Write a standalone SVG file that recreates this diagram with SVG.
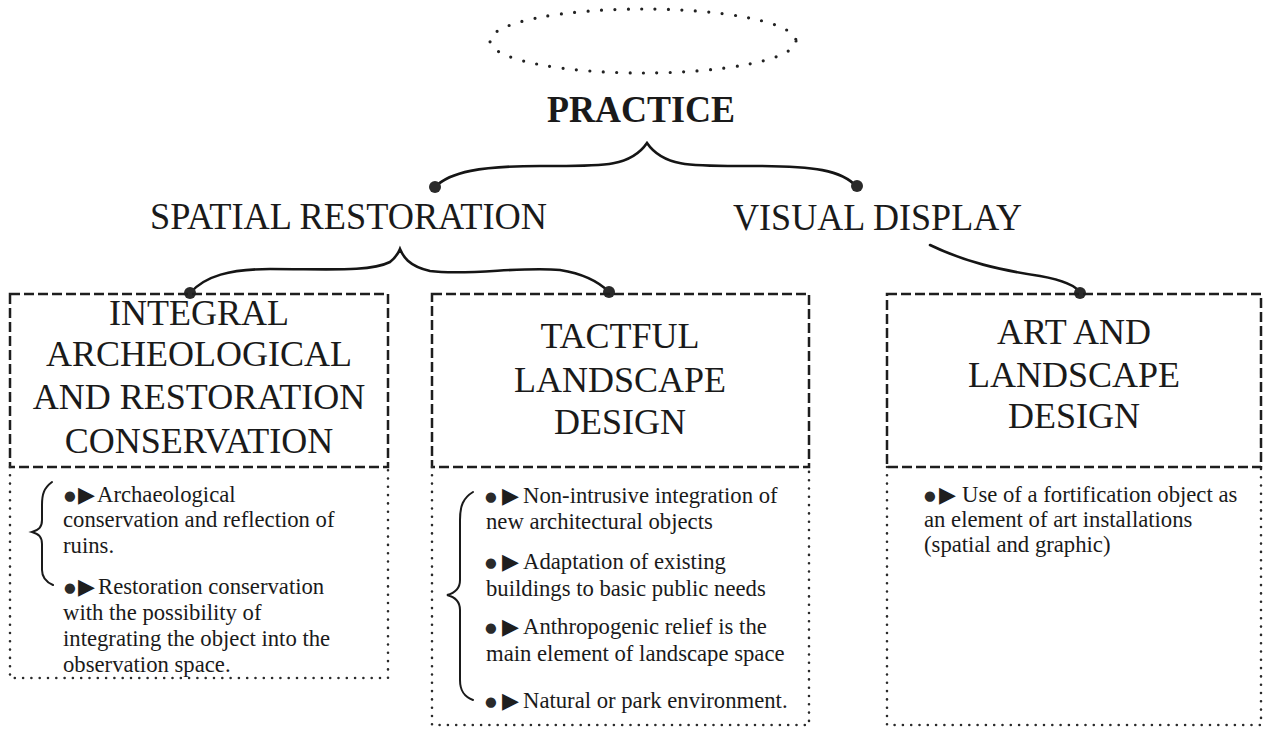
<svg xmlns="http://www.w3.org/2000/svg" width="1266" height="729" viewBox="0 0 1266 729">
  <defs>
    <style>
      .serif { font-family: "Liberation Serif", "Times New Roman", serif; fill: #1a1a1a; }
      .title { font-size: 37px; font-weight: bold; }
      .branch { font-size: 37px; }
      .head { font-size: 36px; text-anchor: middle; }
      .item { font-size: 22.7px; }
      .dot { font-family: "DejaVu Sans", sans-serif; font-size: 13.5px; fill: #2a2a2a; }
      .tri { font-family: "DejaVu Sans", sans-serif; font-size: 22px; fill: #1e1e1e; }
      .dash { fill: none; stroke: #1e1e1e; stroke-width: 2.5; stroke-dasharray: 10 4; }
      .dots { fill: none; stroke: #2a2a2a; stroke-width: 2.6; stroke-dasharray: 0 8.3; stroke-linecap: round; }
      .link { fill: none; stroke: #151515; stroke-width: 2.6; stroke-linecap: round; }
      .knob { fill: #2a2a2a; }
      .brace { fill: none; stroke: #1a1a1a; stroke-width: 2; stroke-linecap: round; }
    </style>
  </defs>
  <rect width="1266" height="729" fill="#ffffff"/>

  <!-- dotted ellipse above the title -->
  <g id="halo">
    <ellipse cx="643" cy="41" rx="153" ry="32" fill="none" stroke="#222222" stroke-width="3.2" stroke-dasharray="0 13.4" stroke-linecap="round"/>
  </g>

  <g id="practice">
    <text class="serif title" x="547" y="122" textLength="188" lengthAdjust="spacingAndGlyphs">PRACTICE</text>
  </g>

  <g id="spatial-restoration">
    <text class="serif branch" x="150" y="229" textLength="397" lengthAdjust="spacingAndGlyphs">SPATIAL RESTORATION</text>
  </g>

  <g id="visual-display">
    <text class="serif branch" x="733" y="230" textLength="289" lengthAdjust="spacingAndGlyphs">VISUAL DISPLAY</text>
  </g>

  <!-- connectors: braces and curved leads ending in round knobs -->
  <g id="connectors">
    <path class="link" d="M435,187 C450,172 480,166 540,166 C600,166 630,168 647,143 C664,168 694,166 754,166 C814,166 842,170 857,187"/>
    <circle class="knob" cx="435" cy="187" r="6"/>
    <circle class="knob" cx="857" cy="186" r="6"/>

    <path class="link" d="M190,293 C205,276 230,269 270,269 C330,269 370,272 390,262 C395,258 398,254 400,249 C403,256 408,266 430,271 C470,276 520,266 560,270 C585,274 600,283 609,292"/>
    <circle class="knob" cx="190" cy="293" r="6"/>
    <circle class="knob" cx="609" cy="292" r="6"/>

    <path class="link" d="M930,245 C965,262 1000,270 1040,276 C1062,280 1076,285 1080,293"/>
    <circle class="knob" cx="1080" cy="293" r="6"/>
  </g>

  <!-- box 1 -->
  <g id="integral-conservation">
    <rect class="dash" x="10" y="294" width="378" height="173"/>
    <path class="dots" d="M10,467 L10,678 L388,678 L388,467"/>
    <text class="serif head" x="199" y="325">INTEGRAL</text>
    <text class="serif head" x="199" y="366">ARCHEOLOGICAL</text>
    <text class="serif head" x="199" y="409">AND RESTORATION</text>
    <text class="serif head" x="199" y="453">CONSERVATION</text>
    <path class="brace" d="M52,482 C44,488 42,494 42,505 L42,520 C42,527 39,530 32,532 C39,534 42,537 42,544 L42,570 C42,578 46,582 53,585"/>
    <text class="serif item" y="502"><tspan class="dot" x="64" dy="-2">●</tspan><tspan class="tri" x="78" dy="2">▶</tspan><tspan x="97">Archaeological</tspan></text>
    <text class="serif item" x="63" y="527">conservation and reflection of</text>
    <text class="serif item" x="63" y="553">ruins.</text>
    <text class="serif item" y="594"><tspan class="dot" x="64" dy="-2">●</tspan><tspan class="tri" x="78" dy="2">▶</tspan><tspan x="98">Restoration conservation</tspan></text>
    <text class="serif item" x="63" y="620">with the possibility of</text>
    <text class="serif item" x="63" y="646">integrating the object into the</text>
    <text class="serif item" x="63" y="672">observation space.</text>
  </g>

  <!-- box 2 -->
  <g id="tactful-landscape">
    <rect class="dash" x="432" y="294" width="377" height="173"/>
    <path class="dots" d="M432,467 L432,725 L809,725 L809,467"/>
    <text class="serif head" x="620" y="348">TACTFUL</text>
    <text class="serif head" x="620" y="392">LANDSCAPE</text>
    <text class="serif head" x="620" y="434">DESIGN</text>
    <path class="brace" d="M473,492 C463,498 460,506 460,520 L460,580 C460,589 455,593 447,595 C455,597 460,601 460,610 L460,680 C460,692 465,697 473,700"/>
    <text class="serif item" y="503"><tspan class="dot" x="485" dy="-2">●</tspan><tspan class="tri" x="502" dy="2">▶</tspan><tspan x="523">Non-intrusive integration of</tspan></text>
    <text class="serif item" x="486" y="529">new architectural objects</text>
    <text class="serif item" y="569"><tspan class="dot" x="485" dy="-2">●</tspan><tspan class="tri" x="502" dy="2">▶</tspan><tspan x="523">Adaptation of existing</tspan></text>
    <text class="serif item" x="486" y="596">buildings to basic public needs</text>
    <text class="serif item" y="634"><tspan class="dot" x="485" dy="-2">●</tspan><tspan class="tri" x="502" dy="2">▶</tspan><tspan x="523">Anthropogenic relief is the</tspan></text>
    <text class="serif item" x="486" y="661">main element of landscape space</text>
    <text class="serif item" y="708"><tspan class="dot" x="485" dy="-2">●</tspan><tspan class="tri" x="502" dy="2">▶</tspan><tspan x="523">Natural or park environment.</tspan></text>
  </g>

  <!-- box 3 -->
  <g id="art-landscape">
    <rect class="dash" x="887" y="294" width="374" height="173"/>
    <path class="dots" d="M887,467 L887,725 L1261,725 L1261,467"/>
    <text class="serif head" x="1074" y="344">ART AND</text>
    <text class="serif head" x="1074" y="387">LANDSCAPE</text>
    <text class="serif head" x="1074" y="428">DESIGN</text>
    <text class="serif item" y="502"><tspan class="dot" x="924" dy="-2">●</tspan><tspan class="tri" x="939" dy="2">▶</tspan><tspan x="962">Use of a fortification object as</tspan></text>
    <text class="serif item" x="924" y="527">an element of art installations</text>
    <text class="serif item" x="924" y="552">(spatial and graphic)</text>
  </g>
</svg>
